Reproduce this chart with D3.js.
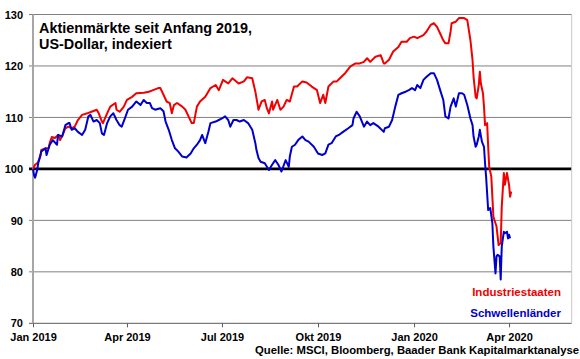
<!DOCTYPE html>
<html><head><meta charset="utf-8">
<script src="https://cdn.jsdelivr.net/npm/d3@7"></script>
<style>
body{margin:0;background:#fff}
svg{display:block;font-family:"Liberation Sans",Arial,sans-serif;font-weight:bold}
</style>
</head><body>
<svg id="chart" width="580" height="359"></svg>
<script>
const titleLines = ["Aktienmärkte seit Anfang 2019,", "US-Dollar, indexiert"];
const seriesNames = ["Industriestaaten", "Schwellenländer"];
const seriesColors = ["#f00000", "#0000cc"];
const xTickDates = ["2019-01-01","2019-04-01","2019-07-01","2019-10-01","2020-01-01","2020-04-01"];
const xTickLabels = ["Jan 2019","Apr 2019","Jul 2019","Okt 2019","Jan 2020","Apr 2020"];
const yTicks = [70, 80, 90, 100, 110, 120, 130];
const xDomain = ["2019-01-01", "2020-05-31"];
const yDomain = [70, 130];
const sourceText = "Quelle: MSCI, Bloomberg, Baader Bank Kapitalmarktanalyse";

const industriestaaten = [
["2019-01-01",100.0],["2019-01-03",100.8],["2019-01-05",101.1],["2019-01-06",101.4],["2019-01-08",102.4],["2019-01-09",103.7],["2019-01-13",104.0],["2019-01-16",104.0],["2019-01-17",105.0],["2019-01-19",106.2],["2019-01-22",106.0],["2019-01-25",106.6],["2019-01-27",105.6],["2019-01-30",106.9],["2019-02-01",107.9],["2019-02-04",108.2],["2019-02-07",107.9],["2019-02-10",108.2],["2019-02-13",109.5],["2019-02-17",110.5],["2019-02-22",110.8],["2019-02-26",111.1],["2019-03-03",111.5],["2019-03-05",110.8],["2019-03-08",109.2],["2019-03-09",108.9],["2019-03-13",110.8],["2019-03-16",112.1],["2019-03-21",112.8],["2019-03-22",111.5],["2019-03-25",111.1],["2019-03-29",112.1],["2019-04-01",113.4],["2019-04-06",114.0],["2019-04-10",114.7],["2019-04-17",114.8],["2019-04-22",115.0],["2019-04-26",115.3],["2019-05-01",115.7],["2019-05-03",115.7],["2019-05-06",114.4],["2019-05-09",113.1],["2019-05-12",112.8],["2019-05-14",110.8],["2019-05-16",112.4],["2019-05-19",112.8],["2019-05-24",112.1],["2019-05-27",111.5],["2019-05-30",110.2],["2019-06-02",108.9],["2019-06-04",108.9],["2019-06-07",112.1],["2019-06-10",113.1],["2019-06-15",114.0],["2019-06-20",115.7],["2019-06-25",116.3],["2019-06-28",115.3],["2019-07-02",117.3],["2019-07-07",116.6],["2019-07-11",117.6],["2019-07-17",116.6],["2019-07-22",117.0],["2019-07-25",117.8],["2019-07-30",117.6],["2019-08-02",115.0],["2019-08-05",111.5],["2019-08-08",113.1],["2019-08-11",113.4],["2019-08-13",111.8],["2019-08-15",110.8],["2019-08-18",113.1],["2019-08-19",111.5],["2019-08-23",113.4],["2019-08-26",111.5],["2019-08-29",112.1],["2019-09-01",113.4],["2019-09-04",113.1],["2019-09-08",116.0],["2019-09-11",116.0],["2019-09-16",117.0],["2019-09-20",116.8],["2019-09-25",116.0],["2019-09-30",115.3],["2019-10-03",112.8],["2019-10-06",114.4],["2019-10-08",112.8],["2019-10-11",116.0],["2019-10-16",117.0],["2019-10-19",117.0],["2019-10-22",117.6],["2019-10-27",118.6],["2019-11-01",119.9],["2019-11-06",120.5],["2019-11-10",120.5],["2019-11-14",120.8],["2019-11-17",121.5],["2019-11-20",120.8],["2019-11-25",121.8],["2019-11-30",122.1],["2019-12-03",120.5],["2019-12-04",120.5],["2019-12-08",121.2],["2019-12-12",122.8],["2019-12-17",123.7],["2019-12-20",124.7],["2019-12-25",124.7],["2019-12-28",125.4],["2020-01-01",125.7],["2020-01-04",125.4],["2020-01-07",125.7],["2020-01-10",126.0],["2020-01-13",126.7],["2020-01-17",128.0],["2020-01-20",128.3],["2020-01-23",127.6],["2020-01-26",126.3],["2020-01-28",125.4],["2020-01-29",125.0],["2020-01-31",124.4],["2020-02-03",124.4],["2020-02-05",126.7],["2020-02-06",128.3],["2020-02-10",128.6],["2020-02-13",129.3],["2020-02-18",129.3],["2020-02-21",128.9],["2020-02-22",127.6],["2020-02-24",125.0],["2020-02-26",121.2],["2020-02-27",117.9],["2020-02-29",114.0],["2020-03-01",113.7],["2020-03-03",116.3],["2020-03-04",118.9],["2020-03-05",116.6],["2020-03-07",114.7],["2020-03-08",112.1],["2020-03-09",108.5],["2020-03-11",108.9],["2020-03-12",104.3],["2020-03-13",100.4],["2020-03-15",98.5],["2020-03-16",94.6],["2020-03-17",90.7],["2020-03-20",88.8],["2020-03-22",85.2],["2020-03-24",85.6],["2020-03-25",92.7],["2020-03-27",99.2],["2020-03-28",96.9],["2020-03-30",99.2],["2020-04-01",96.9],["2020-04-02",94.6],["2020-04-03",95.6]
];

const schwellenlaender = [
["2019-01-01",100.0],["2019-01-02",98.8],["2019-01-03",98.3],["2019-01-05",99.8],["2019-01-06",101.1],["2019-01-09",103.4],["2019-01-13",104.0],["2019-01-14",102.7],["2019-01-17",104.7],["2019-01-20",105.6],["2019-01-24",104.7],["2019-01-25",106.6],["2019-01-29",106.3],["2019-02-01",108.5],["2019-02-04",108.9],["2019-02-05",108.9],["2019-02-07",107.6],["2019-02-10",107.9],["2019-02-13",107.2],["2019-02-17",106.6],["2019-02-20",107.6],["2019-02-23",110.2],["2019-02-25",110.5],["2019-02-28",109.2],["2019-03-03",109.5],["2019-03-06",108.9],["2019-03-08",106.9],["2019-03-10",106.6],["2019-03-13",108.9],["2019-03-16",110.2],["2019-03-19",110.8],["2019-03-22",109.5],["2019-03-25",108.5],["2019-03-27",108.2],["2019-03-30",109.8],["2019-04-02",111.5],["2019-04-06",112.1],["2019-04-10",113.1],["2019-04-14",112.4],["2019-04-17",113.4],["2019-04-20",112.8],["2019-04-23",112.8],["2019-04-25",111.8],["2019-04-28",111.5],["2019-05-03",111.8],["2019-05-06",111.2],["2019-05-08",109.2],["2019-05-11",107.6],["2019-05-14",105.6],["2019-05-17",104.0],["2019-05-20",103.4],["2019-05-24",102.4],["2019-05-28",102.2],["2019-06-01",103.0],["2019-06-04",104.0],["2019-06-07",104.7],["2019-06-10",105.6],["2019-06-12",106.6],["2019-06-15",105.0],["2019-06-18",107.2],["2019-06-20",108.9],["2019-06-25",109.2],["2019-06-28",109.5],["2019-07-01",109.8],["2019-07-04",110.2],["2019-07-07",109.5],["2019-07-09",108.2],["2019-07-12",109.5],["2019-07-15",109.5],["2019-07-18",109.2],["2019-07-22",109.5],["2019-07-26",108.9],["2019-07-30",107.6],["2019-08-02",105.0],["2019-08-03",103.7],["2019-08-05",102.1],["2019-08-07",101.4],["2019-08-11",101.1],["2019-08-15",99.8],["2019-08-18",100.8],["2019-08-21",101.7],["2019-08-24",100.8],["2019-08-27",99.5],["2019-08-31",101.7],["2019-09-03",100.4],["2019-09-04",102.4],["2019-09-06",104.3],["2019-09-09",104.7],["2019-09-12",105.6],["2019-09-16",106.3],["2019-09-19",105.6],["2019-09-22",105.3],["2019-09-27",104.3],["2019-10-01",103.0],["2019-10-05",102.7],["2019-10-08",103.0],["2019-10-11",104.7],["2019-10-14",105.0],["2019-10-18",106.3],["2019-10-21",106.6],["2019-10-25",107.2],["2019-10-30",107.9],["2019-11-03",108.5],["2019-11-04",109.8],["2019-11-07",111.1],["2019-11-10",110.2],["2019-11-14",108.2],["2019-11-17",109.2],["2019-11-20",108.5],["2019-11-23",108.9],["2019-11-28",108.2],["2019-12-03",107.2],["2019-12-04",107.9],["2019-12-08",108.2],["2019-12-11",109.5],["2019-12-14",112.1],["2019-12-17",114.4],["2019-12-20",114.7],["2019-12-24",115.0],["2019-12-27",115.3],["2019-12-30",115.7],["2020-01-02",115.3],["2020-01-04",116.3],["2020-01-07",115.7],["2020-01-10",117.3],["2020-01-13",117.9],["2020-01-17",118.6],["2020-01-20",118.6],["2020-01-23",117.3],["2020-01-26",115.3],["2020-01-29",113.4],["2020-01-31",110.2],["2020-02-03",109.8],["2020-02-05",112.1],["2020-02-08",113.7],["2020-02-10",112.1],["2020-02-13",114.7],["2020-02-16",114.7],["2020-02-18",114.4],["2020-02-21",112.4],["2020-02-24",109.8],["2020-02-26",108.5],["2020-02-27",106.3],["2020-02-29",104.3],["2020-03-01",104.7],["2020-03-03",106.3],["2020-03-04",107.6],["2020-03-06",105.3],["2020-03-08",104.3],["2020-03-09",101.1],["2020-03-10",98.5],["2020-03-12",92.0],["2020-03-14",92.4],["2020-03-16",89.5],["2020-03-17",84.9],["2020-03-19",79.7],["2020-03-20",83.0],["2020-03-21",83.3],["2020-03-23",83.0],["2020-03-24",78.5],["2020-03-25",84.9],["2020-03-27",87.8],["2020-03-28",87.5],["2020-03-30",87.8],["2020-03-31",86.5],["2020-04-01",87.2],["2020-04-02",86.5]
];

const parse = d3.timeParse("%Y-%m-%d");
const svg = d3.select("#chart");
const L = 33, R = 571.7, T = 14.5, B = 323.3;

const x = d3.scaleTime().domain(xDomain.map(parse)).range([L, R]);
const y = d3.scaleLinear().domain(yDomain).range([B, T]);

// grid lines and y tick marks
const grid = svg.append("g");
grid.selectAll("line").data(yTicks).join("line")
  .attr("x1", L - 4).attr("x2", R)
  .attr("y1", d => y(d)).attr("y2", d => y(d))
  .attr("stroke", d => d === 100 ? "#000" : (d === 70 ? "#595959" : "#808080"))
  .attr("stroke-width", d => d === 100 ? 2.6 : 1);

// right border
svg.append("line").attr("x1", R).attr("x2", R).attr("y1", T).attr("y2", B)
  .attr("stroke", "#c8c8c8").attr("stroke-width", 1);
// left axis line
svg.append("line").attr("x1", L).attr("x2", L).attr("y1", T).attr("y2", B)
  .attr("stroke", "#a6a6a6").attr("stroke-width", 2);

// y axis labels
const yAxis = d3.axisLeft(y).tickValues(yTicks).tickSize(0).tickPadding(0).tickFormat(d3.format("d"));
const gy = svg.append("g").attr("transform", `translate(${L - 10},0)`).call(yAxis);
gy.select(".domain").remove();
gy.selectAll("text").attr("font-family", "'Liberation Sans', Arial, sans-serif")
  .attr("font-weight", "bold").attr("font-size", 11).attr("fill", "#000").attr("dy", "0.33em");

// x axis
const xAxis = d3.axisBottom(x).tickValues(xTickDates.map(parse))
  .tickFormat((d, i) => xTickLabels[i]).tickSizeInner(4).tickSizeOuter(0).tickPadding(5.5);
const gx = svg.append("g").attr("transform", `translate(0,${B})`).call(xAxis);
gx.select(".domain").remove();
gx.selectAll(".tick line").attr("stroke", "#595959");
gx.selectAll("text").attr("font-family", "'Liberation Sans', Arial, sans-serif")
  .attr("font-weight", "bold").attr("font-size", 11).attr("fill", "#000");

// lines
const line = d3.line().x(d => x(parse(d[0]))).y(d => y(d[1]));
[industriestaaten, schwellenlaender].forEach((s, i) => {
  svg.append("path").datum(s).attr("d", line)
    .attr("fill", "none").attr("stroke", seriesColors[i])
    .attr("stroke-width", 2).attr("stroke-linejoin", "round");
});

// title
svg.append("text").attr("x", 39).attr("y", 32.5).attr("font-size", 14.4)
  .selectAll("tspan").data(titleLines).join("tspan")
  .attr("x", 39).attr("y", (d, i) => 32.5 + i * 16).text(d => d);

// legend
svg.append("g").selectAll("text").data(seriesNames).join("text")
  .attr("x", 561).attr("y", (d, i) => 296 + i * 20.5)
  .attr("text-anchor", "end").attr("font-size", 11.5)
  .attr("fill", (d, i) => seriesColors[i]).text(d => d);

// source
svg.append("text").attr("x", 579).attr("y", 353.5).attr("text-anchor", "end")
  .attr("font-size", 11.3).text(sourceText);
</script>
</body></html>
